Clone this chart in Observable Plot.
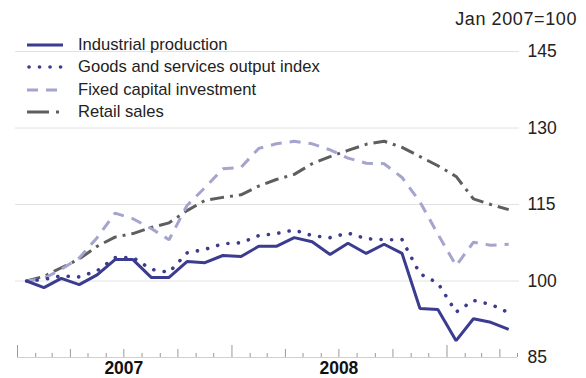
<!DOCTYPE html>
<html><head><meta charset="utf-8">
<script src="https://cdn.jsdelivr.net/npm/d3@7"></script>
<script src="https://cdn.jsdelivr.net/npm/@observablehq/plot@0.6"></script>
<style>
body{margin:0;background:#fff;font-family:"Liberation Sans",Arial,sans-serif;}
#wrap{position:relative;width:586px;height:378px;overflow:hidden}
#unit{position:absolute;right:9px;top:10px;font-size:18px;line-height:1;color:#222;letter-spacing:0.6px}
#legend{position:absolute;left:27px;top:34px;font-size:16.6px;color:#222}
.row{display:flex;align-items:center;height:22.3px;white-space:nowrap}
.row svg{margin-right:15px;flex:none}
</style></head><body>
<div id="wrap"><div id="chart"></div><div id="unit">Jan 2007=100</div><div id="legend"></div></div>
<script>
// Monthly data, Jan 2007 = 100
const months = ["2007-01","2007-02","2007-03","2007-04","2007-05","2007-06","2007-07","2007-08","2007-09","2007-10","2007-11","2007-12",
  "2008-01","2008-02","2008-03","2008-04","2008-05","2008-06","2008-07","2008-08","2008-09","2008-10","2008-11","2008-12",
  "2009-01","2009-02","2009-03","2009-04"];
const industrialProduction = [100, 98.7, 100.5, 99.3, 101.2, 104.2, 104.2, 100.7, 100.7, 103.8, 103.6, 105, 104.8, 106.8, 106.8, 108.5,
  107.7, 105.2, 107.4, 105.4, 107.2, 105.4, 94.6, 94.4, 88.3, 92.6, 91.9, 90.5];
const goodsServicesOutput = [100, 100.3, 101, 100.8, 102, 104.6, 104.6, 102.3, 101.7, 105.5, 106.2, 107.3, 107.5, 108.9, 109.3, 110,
  108.9, 108.5, 109.4, 108.3, 108.1, 108.1, 101.4, 99.6, 93.9, 96.2, 95.4, 93.8];
const fixedCapitalInvestment = [100, 100.5, 102.3, 104.5, 108.5, 113.3, 112.2, 110.3, 108.1, 114.8, 118.3, 122, 122.3, 126, 126.9, 127.4,
  126.9, 125.7, 124.1, 123.1, 123, 120.3, 115.5, 109.2, 103, 107.6, 107, 107.2];
const retailSales = [100, 100.9, 102.6, 104.3, 106.8, 108.6, 109.3, 110.5, 111.4, 113.8, 115.8, 116.4, 116.9, 118.6, 119.9, 120.9,
  123, 124.4, 125.6, 126.8, 127.4, 126.2, 124.4, 122.6, 120.5, 116.1, 115, 114];
const seriesNames = ["Industrial production", "Goods and services output index", "Fixed capital investment", "Retail sales"];
const yTicks = [85, 100, 115, 130, 145];
const yearLabels = ["2007", "2008"];

const seriesValues = [industrialProduction, goodsServicesOutput, fixedCapitalInvestment, retailSales];
const styles = [
  {stroke: "#3b3b90", strokeWidth: 3, strokeDasharray: null, strokeLinecap: "butt"},
  {stroke: "#3b3b90", strokeWidth: 3.6, strokeDasharray: "0.1 10.4", strokeLinecap: "round"},
  {stroke: "#a4a4cf", strokeWidth: 3, strokeDasharray: "11 8", strokeLinecap: "butt"},
  {stroke: "#5e5e5e", strokeWidth: 3, strokeDasharray: "14 6 3 6", strokeLinecap: "butt"}
];

const monthStart = m => new Date(m + "-01T00:00:00Z");
const midMonth = m => { const d = monthStart(m); return new Date((+d + +d3.utcMonth.offset(d, 1)) / 2); };

const xStart = monthStart(months[0]);
const xEnd = d3.utcMonth.offset(monthStart(months[months.length - 1]), 1);
const tickDates = d3.utcMonth.range(xStart, d3.utcMonth.offset(xEnd, 1));
const yearTicks = tickDates.filter(d => d.getUTCMonth() === 0);
const quarterTicks = tickDates.filter(d => d.getUTCMonth() % 3 === 0 && d.getUTCMonth() !== 0);
const monthTicks = tickDates.filter(d => d.getUTCMonth() % 3 !== 0);
const yearLabelData = yearLabels.map(y => ({label: y, date: new Date(`${y}-07-01T00:00:00Z`)}));

const H = 378, MT = 51, MB = 21, frameH = H - MT - MB;

const lineMarks = seriesValues.map((vals, i) =>
  Plot.line(months.map((m, j) => ({date: midMonth(m), value: vals[j]})), {x: "date", y: "value", ...styles[i], strokeLinejoin: "miter"})
);

const chart = Plot.plot({
  width: 586, height: H,
  marginTop: MT, marginBottom: MB, marginLeft: 17, marginRight: 69,
  style: {fontFamily: "'Liberation Sans', Arial, sans-serif", background: "#fff", overflow: "visible"},
  x: {type: "utc", domain: [xStart, xEnd], axis: null},
  y: {domain: [85, 145], axis: null},
  marks: [
    Plot.ruleY(yTicks.filter(v => v > 85), {y: d => d, stroke: "#e2e2e2", strokeWidth: 1, insetLeft: -2, insetRight: -2}),
    Plot.ruleY([85], {y: d => d, stroke: "#d0d0d0", strokeWidth: 1}),
    Plot.ruleX(monthTicks, {x: d => d, stroke: "#999", strokeWidth: 1, insetTop: frameH - 4}),
    Plot.ruleX(quarterTicks, {x: d => d, stroke: "#999", strokeWidth: 1, insetTop: frameH - 8}),
    Plot.ruleX(yearTicks, {x: d => d, stroke: "#999", strokeWidth: 1, insetTop: frameH - 12}),
    ...lineMarks.slice().reverse(),
    Plot.text(yTicks, {y: d => d, text: d => String(d), frameAnchor: "right", textAnchor: "start", dx: 10, fontSize: 17.5, fill: "#222"}),
    Plot.text(yearLabelData, {x: "date", text: "label", frameAnchor: "bottom", lineAnchor: "top", dy: 4, fontSize: 17.5, fontWeight: "bold", fill: "#111"})
  ]
});
document.getElementById("chart").appendChild(chart);

// Legend
const legend = document.getElementById("legend");
seriesNames.forEach((name, i) => {
  const s = styles[i];
  const row = document.createElement("div");
  row.className = "row";
  const dash = i === 1 ? "0.1 10.4" : i === 2 ? "11 8" : i === 3 ? "22 7 3 6" : "";
  const x1 = i === 1 ? 2 : 0;
  row.innerHTML = `<svg width="36" height="8"><line x1="${x1}" y1="4" x2="36" y2="4" stroke="${s.stroke}" stroke-width="${s.strokeWidth}" stroke-dasharray="${dash}" stroke-linecap="${s.strokeLinecap}"/></svg><span>${name}</span>`;
  legend.appendChild(row);
});
</script>
</body></html>
